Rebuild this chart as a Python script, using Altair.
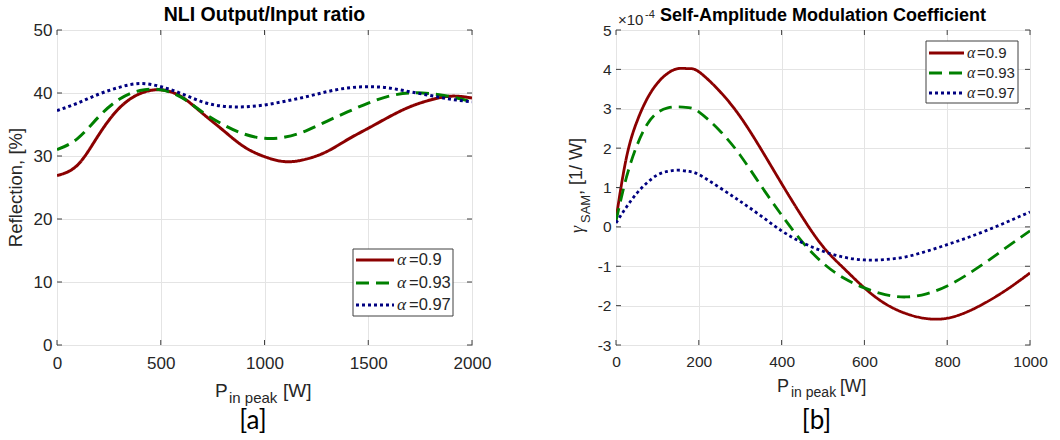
import altair as alt
import pandas as pd

# ---------------- panel (a): NLI output/input ratio ----------------
p_a = [0, 100, 200, 300, 400, 500, 600, 700, 800, 900, 1000,
       1100, 1200, 1300, 1400, 1500, 1600, 1700, 1800, 1900, 2000]
refl_090 = [26.9, 28.6, 33.3, 37.6, 39.9, 40.5, 39.4, 36.8, 34.1, 31.5, 29.9,
            29.1, 29.5, 30.7, 32.6, 34.4, 36.2, 37.8, 38.9, 39.5, 39.2]
refl_093 = [31.0, 32.8, 36.2, 39.0, 40.4, 40.5, 39.3, 37.0, 35.0, 33.5, 32.8,
            33.0, 34.0, 35.5, 37.0, 38.4, 39.5, 40.0, 39.9, 39.4, 38.6]
refl_097 = [37.2, 38.4, 39.8, 40.9, 41.5, 41.0, 39.9, 38.6, 37.9, 37.8, 38.1,
            38.7, 39.4, 40.2, 40.8, 41.0, 40.8, 40.2, 39.6, 39.0, 38.6]
xticks_a = [0, 500, 1000, 1500, 2000]
yticks_a = [0, 10, 20, 30, 40, 50]

# ---------------- panel (b): SAM coefficient, in units of 1e-4 1/W ----------------
p_b = [0, 25, 50, 75, 100, 125, 150, 175, 200, 250, 300, 350, 400, 450, 500,
       550, 600, 650, 700, 750, 800, 850, 900, 950, 1000]
sam_090 = [0.2, 1.75, 2.66, 3.25, 3.65, 3.9, 4.02, 4.02, 3.94, 3.45, 2.8, 1.98, 1.1, 0.25, -0.5,
           -1.05, -1.55, -1.95, -2.2, -2.33, -2.32, -2.15, -1.88, -1.55, -1.17]
sam_093 = [0.15, 1.25, 2.05, 2.6, 2.9, 3.02, 3.05, 3.03, 2.92, 2.45, 1.82, 1.05, 0.3, -0.38, -0.92,
           -1.3, -1.55, -1.72, -1.78, -1.7, -1.5, -1.2, -0.85, -0.47, -0.1]
sam_097 = [0.1, 0.5, 0.85, 1.12, 1.32, 1.41, 1.44, 1.41, 1.33, 1.0, 0.65, 0.28, -0.1, -0.4, -0.62,
           -0.77, -0.84, -0.83, -0.76, -0.62, -0.45, -0.27, -0.07, 0.15, 0.38]
xticks_b = [0, 200, 400, 600, 800, 1000]
yticks_b = [-3, -2, -1, 0, 1, 2, 3, 4, 5]

# ---------------- series styling ----------------
alpha_vals = ["0.9", "0.93", "0.97"]
colors = ["#8b0000", "#008000", "#000080"]
dashes = [[1, 0], [13, 7], [3, 3]]

FONT = "Liberation Sans"
INK = "#262626"
FRAME = "#404040"
GRID = "#e4e4e4"


def text(txt, x, y, size, weight="normal", style="normal", angle=0,
         align="left", baseline="alphabetic", color=INK, font=FONT):
    return alt.Chart(pd.DataFrame({"t": [txt]})).mark_text(
        align=align, baseline=baseline, font=font, fontSize=size,
        fontWeight=weight, fontStyle=style, angle=angle, color=color
    ).encode(x=alt.value(x), y=alt.value(y), text="t:N")


def panel(px, series, xdom, ydom, xticks, yticks, W, H, lab_size,
          lab_pad_x, line_w, legend, neg_hyphen=False):
    xs = alt.Scale(domain=xdom, nice=False, zero=False)
    ys = alt.Scale(domain=ydom, nice=False, zero=False)
    ax_x = alt.Axis(values=xticks, format="d", grid=True, gridColor=GRID,
                    gridWidth=1, domain=False, ticks=False,
                    labelFontSize=lab_size, labelColor=INK, labelFont=FONT,
                    labelPadding=lab_pad_x, labelFlush=False,
                    labelOverlap=False, title=None)
    y_kwargs = dict(values=yticks, format="d", grid=True, gridColor=GRID,
                    gridWidth=1, domain=False, ticks=False,
                    labelFontSize=lab_size, labelColor=INK, labelFont=FONT,
                    labelPadding=5, labelFlush=False, labelOverlap=False,
                    title=None)
    if neg_hyphen:
        y_kwargs["labelExpr"] = "datum.value < 0 ? '-' + (-datum.value) : '' + datum.value"
    ax_y = alt.Axis(**y_kwargs)

    X = alt.X("p:Q", scale=xs, axis=ax_x)
    Y = alt.Y("v:Q", scale=ys, axis=ax_y)

    layers = []
    for vals, c, d in zip(series, colors, dashes):
        df = pd.DataFrame({"p": px, "v": vals})
        layers.append(alt.Chart(df).mark_line(
            color=c, strokeDash=d, strokeWidth=line_w, interpolate="natural",
            clip=True).encode(x=X, y=Y))

    # inward tick marks on all four sides of the box
    xt = pd.DataFrame({"p": xticks})
    yt = pd.DataFrame({"v": yticks})
    layers.append(alt.Chart(xt).mark_rule(color=FRAME, strokeWidth=1).encode(
        x=X, y=alt.value(H), y2=alt.value(H - 5)))
    layers.append(alt.Chart(xt).mark_rule(color=FRAME, strokeWidth=1).encode(
        x=X, y=alt.value(0), y2=alt.value(5)))
    layers.append(alt.Chart(yt).mark_rule(color=FRAME, strokeWidth=1).encode(
        y=Y, x=alt.value(0), x2=alt.value(5)))
    layers.append(alt.Chart(yt).mark_rule(color=FRAME, strokeWidth=1).encode(
        y=Y, x=alt.value(W), x2=alt.value(W - 5)))

    # legend box
    bx0, bx1, by0, by1, rows, sx0, sx1, ax0, eq0, fs = legend
    layers.append(alt.Chart(pd.DataFrame({"k": [0]})).mark_rect(
        fill="white", stroke=FRAME, strokeWidth=1).encode(
        x=alt.value(bx0), x2=alt.value(bx1), y=alt.value(by0), y2=alt.value(by1)))
    for a, c, d, ry in zip(alpha_vals, colors, dashes, rows):
        layers.append(alt.Chart(pd.DataFrame({"k": [a]})).mark_rule(
            color=c, strokeDash=d, strokeWidth=line_w).encode(
            x=alt.value(sx0), x2=alt.value(sx1), y=alt.value(ry)))
        layers.append(text("α", ax0, ry, fs + 1, style="italic",
                           baseline="middle", font="Liberation Serif"))
        layers.append(text("=" + a, eq0, ry, fs, baseline="middle"))
    return layers


# ---------------- panel (a) ----------------
Wa, Ha = 415, 315
layers_a = panel(p_a, [refl_090, refl_093, refl_097], [0, 2000], [0, 50],
                 xticks_a, yticks_a, Wa, Ha, 17, 10, 3,
                 (296, 396, 219, 286, [230, 253, 275], 299, 337, 340, 352, 16.5))
layers_a += [
    text("NLI Output/Input ratio", Wa / 2, -15, 19.5, weight="bold",
         align="center", baseline="middle", color="black"),
    text("Reflection, [%]", -41, Ha / 2, 18.5, angle=270, align="center",
         baseline="middle"),
    text("P", 158, 367, 19),
    text("in peak", 172, 373, 15),
    text("[W]", 226, 367, 19),
    text("[a]", 196, 391, 26, align="center", baseline="middle",
         color="black", font="Lato"),
]
chart_a = alt.layer(*layers_a).properties(width=Wa, height=Ha)

# ---------------- panel (b) ----------------
Wb, Hb = 414, 315
layers_b = panel(p_b, [sam_090, sam_093, sam_097], [0, 1000], [-3, 5],
                 xticks_b, yticks_b, Wb, Hb, 15.5, 9, 2.8,
                 (310, 402, 11, 73, [23, 43, 63], 313, 348, 351, 361, 15),
                 neg_hyphen=True)
layers_b += [
    text("Self-Amplitude Modulation Coefficient", Wb / 2, -14, 18,
         weight="bold", align="center", baseline="middle", color="black"),
    text("×10", 2, -5, 15),
    text("-4", 29, -12, 11),
    text("γ", -38, 203, 18, style="italic", angle=270, baseline="middle",
         font="Liberation Serif"),
    text("SAM", -30, 193, 13, angle=270, baseline="middle"),
    text(", [1/ W]", -39, 165, 18, angle=270, baseline="middle"),
    text("P", 161, 362, 18),
    text("in peak", 175, 367, 14),
    text("[W]", 224, 362, 17.5),
    text("[b]", 200.5, 391, 26, align="center", baseline="middle",
         color="black", font="Lato"),
]
chart_b = alt.layer(*layers_b).properties(width=Wb, height=Hb)

chart = alt.hconcat(chart_a, chart_b, spacing=144, bounds="flush").properties(
    padding={"left": 6, "top": 4, "right": 5, "bottom": 2},
    background="white",
).configure_view(stroke=FRAME, strokeWidth=1)

chart.save("out.html", embed_options={"renderer": "svg", "actions": False})
